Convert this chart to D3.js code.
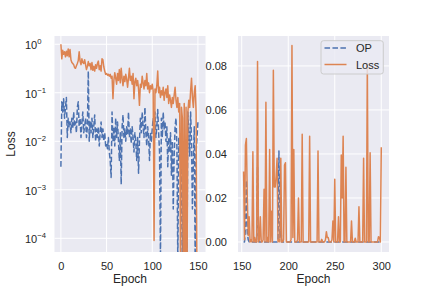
<!DOCTYPE html>
<html><head><meta charset="utf-8">
<script src="https://cdn.jsdelivr.net/npm/d3@7"></script>
<style>
body{margin:0;background:#fff}
text{font-family:"Liberation Sans",Arial,sans-serif;fill:#262626}
</style>
</head><body>
<svg id="c" width="432" height="288"></svg>
<script>
// ---------- data ----------
const seriesNames = ["OP", "Loss"];
const seriesColors = ["#4C72B0", "#DD8452"];

const leftStartEpoch = 0;
const leftOP = [
  0.003, 0.065, 0.04, 0.075, 0.03, 0.05, 0.08, 0.012, 0.03, 0.02,
  0.025, 0.015, 0.03, 0.018, 0.04, 0.02, 0.025, 0.015, 0.05, 0.065,
  0.02, 0.03, 0.012, 0.025, 0.04, 0.015, 0.02, 0.03, 0.012, 0.02,
  0.28, 0.01, 0.025, 0.015, 0.03, 0.012, 0.02, 0.035, 0.01, 0.018,
  0.012, 0.02, 0.008, 0.015, 0.025, 0.012, 0.018, 0.01, 0.015, 0.008,
  0.009, 0.007, 0.012, 0.006, 0.004, 0.0018, 0.04, 0.01, 0.02, 0.008,
  0.03, 0.012, 0.025, 0.01, 0.004, 0.015, 0.0013, 0.02, 0.035, 0.012,
  0.018, 0.01, 0.02, 0.014, 0.04, 0.012, 0.018, 0.009, 0.02, 0.012,
  0.006, 0.015, 0.01, 0.004, 0.012, 0.0022, 0.01, 0.03, 0.015, 0.04,
  0.02, 0.012, 0.05, 0.015, 0.008, 0.02, 0.012, 0.004, 0.015, 0.01,
  0.018, 0.03, 0.015, 0.04, 0.012, 0.02, 0.045, 0.015, 0.006, 0.00004,
  0.03, 0.012, 0.04, 0.018, 0.025, 0.01, 0.02, 0.003, 0.012, 0.006,
  0.015, 0.002, 0.01, 0.0004, 0.005, 0.02, 0.03, 0.008, 0.00003, 0.012,
  0.004, 0.006, 0.002, 0.00002, 0.008, 0.003, 0.00003, 0.002, 0.00003, 0.04,
  0.015, 0.005, 0.04, 0.01, 0.0004, 0.004, 0.02, 0.00003, 0.006, 0.012,
  0.025
];
const leftLoss = [
  1.00, 0.50, 0.75, 0.62, 0.70, 0.55, 0.72, 0.58, 0.80, 0.55,
  0.78, 0.48, 0.42, 0.40, 0.38, 0.33, 0.32, 0.36, 0.40, 0.46,
  0.70, 0.45, 0.38, 0.50, 0.42, 0.40, 0.48, 0.38, 0.30, 0.35,
  0.44, 0.36, 0.40, 0.30, 0.42, 0.29, 0.35, 0.28, 0.38, 0.32,
  0.40, 0.45, 0.30, 0.36, 0.28, 0.50, 0.48, 0.34, 0.28, 0.24,
  0.25, 0.23, 0.24, 0.22, 0.24, 0.20, 0.22, 0.075, 0.18, 0.26,
  0.20, 0.15, 0.25, 0.18, 0.30, 0.16, 0.32, 0.20, 0.14, 0.22,
  0.17, 0.24, 0.19, 0.13, 0.20, 0.32, 0.18, 0.22, 0.15, 0.25,
  0.075, 0.17, 0.20, 0.14, 0.18, 0.12, 0.055, 0.15, 0.13, 0.22,
  0.16, 0.12, 0.18, 0.14, 0.25, 0.12, 0.16, 0.10, 0.14, 0.12,
  0.15, 0.11, 0.00009, 0.12, 0.10, 0.14, 0.28, 0.10, 0.13, 0.08,
  0.11, 0.09, 0.13, 0.07, 0.10, 0.12, 0.08, 0.14, 0.06, 0.09,
  0.07, 0.05, 0.08, 0.06, 0.09, 0.13, 0.07, 0.05, 0.08, 0.04,
  0.06, 0.00002, 0.05, 0.03, 0.00001, 0.06, 0.000005, 0.05, 0.00001, 0.04,
  0.07, 0.05, 0.11, 0.20, 0.08, 0.05, 0.10, 0.14, 0.04, 0.00001,
  0.00001
];

const rightStartEpoch = 152;
const rightOP = [
  0, 0, 0.006, 0.028, 0.004, 0.001, 0, 0, 0, 0,
  0, 0, 0, 0, 0, 0.034, 0.001, 0, 0, 0,
  0, 0, 0, 0, 0, 0, 0, 0, 0, 0,
  0, 0, 0, 0, 0, 0, 0, 0.001, 0.0414, 0.002,
  0.007, 0, 0, 0, 0, 0, 0, 0, 0, 0,
  0, 0, 0, 0, 0, 0, 0, 0, 0, 0,
  0, 0, 0, 0, 0, 0, 0, 0, 0, 0,
  0, 0, 0, 0, 0, 0, 0, 0, 0, 0,
  0, 0, 0, 0, 0, 0, 0, 0, 0, 0,
  0, 0, 0, 0, 0, 0, 0, 0, 0, 0,
  0, 0, 0, 0, 0, 0, 0, 0, 0, 0,
  0, 0, 0, 0, 0, 0, 0, 0, 0, 0,
  0, 0, 0, 0, 0, 0, 0, 0, 0, 0,
  0, 0, 0, 0, 0, 0, 0, 0, 0, 0,
  0, 0, 0, 0, 0, 0, 0, 0, 0
];
const rightLoss = [
  0.032, 0.001, 0.044, 0.047, 0.020, 0.003, 0.0115, 0, 0.001, 0,
  0.041, 0, 0.002, 0, 0, 0.082, 0, 0.001, 0.0115, 0,
  0, 0.001, 0.024, 0, 0.0635, 0, 0.002, 0, 0.042, 0,
  0.014, 0, 0.078, 0.025, 0.025, 0.030, 0.038, 0, 0.001, 0,
  0.038, 0, 0, 0.001, 0.035, 0.036, 0, 0, 0, 0,
  0, 0.001, 0.0893, 0.002, 0.042, 0, 0, 0, 0.001, 0.020,
  0, 0, 0, 0.049, 0, 0, 0, 0, 0, 0,
  0, 0.048, 0, 0, 0, 0, 0, 0, 0, 0,
  0.0414, 0, 0, 0, 0.0012, 0, 0, 0, 0.001, 0.0047,
  0.002, 0.002, 0, 0, 0, 0.001, 0.0095, 0, 0.0285, 0,
  0, 0, 0.0115, 0, 0, 0.0395, 0.020, 0.048, 0, 0,
  0.034, 0, 0, 0, 0, 0, 0.0095, 0, 0, 0,
  0.0017, 0, 0, 0, 0.016, 0, 0, 0, 0, 0.038,
  0, 0, 0, 0.081, 0, 0, 0.0406, 0, 0, 0,
  0, 0, 0, 0, 0, 0.0024, 0.002, 0, 0.043
];

const leftXTicks = [0, 50, 100, 150];
const rightXTicks = [150, 200, 250, 300];
const leftYTicks = [1e-4, 1e-3, 1e-2, 1e-1, 1];
const leftYTickExps = ["\u22124", "\u22123", "\u22122", "\u22121", "0"];
const rightYTicks = [0, 0.02, 0.04, 0.06, 0.08];
const xLabel = "Epoch";
const yLabel = "Loss";

// ---------- layout ----------
const svg = d3.select("#c");
const axTop = 36, axBottom = 252;
const L = {x0: 54.5, x1: 205.5};
const R = {x0: 238, x1: 389};

const lx = d3.scaleLinear().domain([-7, 158.3]).range([L.x0, L.x1]);
const ly = d3.scaleLog().domain([5.22e-5, 1.48]).range([axBottom, axTop]);
const rx = d3.scaleLinear().domain([146, 308.3]).range([R.x0, R.x1]);
const ry = d3.scaleLinear().domain([-0.00455, 0.0936]).range([axBottom, axTop]);

const defs = svg.append("defs");
[["clipL", L], ["clipR", R]].forEach(([id, a]) => {
  defs.append("clipPath").attr("id", id).append("rect")
    .attr("x", a.x0).attr("y", axTop).attr("width", a.x1 - a.x0).attr("height", axBottom - axTop);
});

function panel(a, xs, ys, xt, yt) {
  const g = svg.append("g");
  g.append("rect").attr("x", a.x0).attr("y", axTop).attr("width", a.x1 - a.x0)
    .attr("height", axBottom - axTop).attr("fill", "#EAEAF2");
  g.selectAll(".gx").data(xt).enter().append("line")
    .attr("x1", d => xs(d)).attr("x2", d => xs(d)).attr("y1", axTop).attr("y2", axBottom)
    .attr("stroke", "#fff").attr("stroke-width", 1);
  g.selectAll(".gy").data(yt).enter().append("line")
    .attr("y1", d => ys(d)).attr("y2", d => ys(d)).attr("x1", a.x0).attr("x2", a.x1)
    .attr("stroke", "#fff").attr("stroke-width", 1);
  const ax = svg.append("g").attr("transform", `translate(0,${axBottom})`)
    .call(d3.axisBottom(xs).tickValues(xt).tickSize(0).tickPadding(10).tickFormat(d3.format("d")));
  ax.select(".domain").remove();
  ax.selectAll("text").attr("font-size", 11).attr("font-family", null).attr("fill", "#262626");
  svg.append("text").attr("x", (a.x0 + a.x1) / 2).attr("y", 283)
    .attr("text-anchor", "middle").attr("font-size", 12).text(xLabel);
  return g;
}

panel(L, lx, ly, leftXTicks, leftYTicks);
panel(R, rx, ry, rightXTicks, rightYTicks);

// left log y labels
const lyl = svg.append("g");
leftYTicks.forEach((t, i) => {
  const tx = lyl.append("text").attr("x", 25).attr("y", ly(t) + 5)
    .attr("font-size", 11);
  tx.append("tspan").text("10");
  tx.append("tspan").attr("font-size", 7.7).attr("dy", -5).text(leftYTickExps[i]);
});
svg.append("text").attr("transform", `translate(15,${(axTop + axBottom) / 2}) rotate(-90)`)
  .attr("text-anchor", "middle").attr("font-size", 12).text(yLabel);

// right y axis
const ayr = svg.append("g").attr("transform", `translate(${R.x0},0)`)
  .call(d3.axisLeft(ry).tickValues(rightYTicks).tickSize(0).tickPadding(11).tickFormat(d3.format(".2f")));
ayr.select(".domain").remove();
ayr.selectAll("text").attr("font-size", 11).attr("font-family", null).attr("fill", "#262626");

// lines
function drawSeries(xs, ys, start, values, color, dashed, clipId) {
  const line = d3.line().x((d, i) => xs(start + i)).y(d => ys(d));
  svg.append("path").datum(values)
    .attr("clip-path", `url(#${clipId})`)
    .attr("d", line)
    .attr("fill", "none").attr("stroke", color).attr("stroke-width", 1.5)
    .attr("stroke-linejoin", "round")
    .attr("stroke-dasharray", dashed ? "5.55,2.4" : null);
}
drawSeries(lx, ly, leftStartEpoch, leftOP, seriesColors[0], true, "clipL");
drawSeries(lx, ly, leftStartEpoch, leftLoss, seriesColors[1], false, "clipL");
drawSeries(rx, ry, rightStartEpoch, rightOP, seriesColors[0], true, "clipR");
drawSeries(rx, ry, rightStartEpoch, rightLoss, seriesColors[1], false, "clipR");

// legend
const lg = svg.append("g");
lg.append("rect").attr("x", 321).attr("y", 40.7).attr("width", 62.3).attr("height", 33.3)
  .attr("rx", 2.5).attr("fill", "#EAEAF2").attr("fill-opacity", 0.8)
  .attr("stroke", "#CCCCCC").attr("stroke-width", 1);
seriesNames.forEach((n, i) => {
  const cy = 48 + i * 16.5;
  lg.append("line").attr("x1", 324.5).attr("x2", 346.5).attr("y1", cy).attr("y2", cy)
    .attr("stroke", seriesColors[i]).attr("stroke-width", 1.5)
    .attr("stroke-dasharray", i === 0 ? "5.55,2.4" : null);
  lg.append("text").attr("x", 356).attr("y", cy + 4).attr("font-size", 11).text(n);
});
</script>
</body></html>
